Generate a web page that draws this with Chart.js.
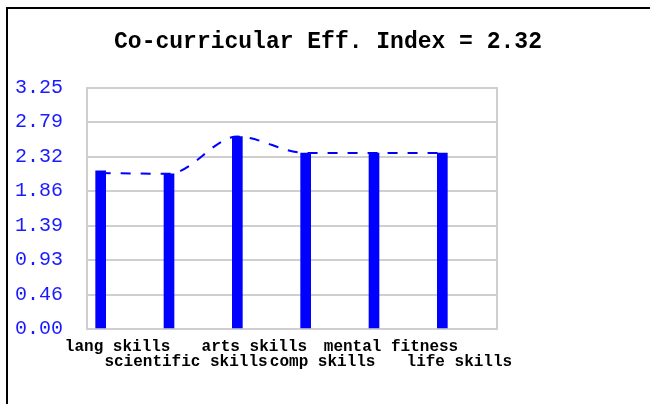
<!DOCTYPE html>
<html>
<head>
<meta charset="utf-8">
<script src="https://cdn.jsdelivr.net/npm/chart.js@4/dist/chart.umd.min.js"></script>
<style>
  html, body { margin: 0; padding: 0; background: #fff; overflow: hidden; }
  .frame {
    position: absolute; left: 6px; top: 7px;
    width: 700px; height: 450px;
    border: 2px solid #000;
  }
  #chart { position: absolute; left: 0; top: 0; }
</style>
</head>
<body>
<div class="frame"></div>
<canvas id="chart" width="650" height="404"></canvas>
<script>
// skill areas, one bar each
const categories = ['lang skills', 'scientific skills', 'arts skills', 'comp skills', 'mental fitness', 'life skills'];
const scores = [2.13, 2.09, 2.59, 2.37, 2.37, 2.37];
// dashed trend drawn over the bars
const trend = [2.10, 2.09, 2.59, 2.37, 2.37, 2.37];
const yTickLabels = ['0.00', '0.46', '0.93', '1.39', '1.86', '2.32', '2.79', '3.25'];
const yMax = 3.25;

const index = scores.reduce((a, b) => a + b, 0) / scores.length;

const gridColor = '#cfcfcf';
const mono = "'Liberation Mono', 'DejaVu Sans Mono', monospace";

new Chart(document.getElementById('chart').getContext('2d'), {
    type: 'bar',
    data: {
        datasets: [
            {
                type: 'line',
                data: trend.map((v, i) => ({ x: i, y: v })),
                borderColor: '#0000ff',
                borderWidth: 2,
                borderDash: [10, 10],
                cubicInterpolationMode: 'monotone',
                pointRadius: 0,
                fill: false,
                order: 1
            },
            {
                data: scores.map((v, i) => ({ x: i, y: v })),
                backgroundColor: '#0000ff',
                barThickness: 10,
                order: 2
            }
        ]
    },
    options: {
        responsive: false,
        animation: false,
        layout: {
            padding: { left: 6, right: 0, top: 0, bottom: 33 }
        },
        scales: {
            x: {
                type: 'linear',
                offset: false,
                min: -0.2,
                max: 5.8,
                afterBuildTicks: axis => {
                    axis.ticks = categories.map((c, i) => ({ value: i }));
                },
                grid: { display: false },
                border: { color: gridColor, width: 2 },
                ticks: {
                    autoSkip: false,
                    maxRotation: 0,
                    padding: 2,
                    labelOffset: 17,
                    color: '#000',
                    font: { family: mono, size: 16, weight: 'bold', lineHeight: '15px' },
                    // alternate rows so the long names don't collide
                    callback: value => {
                        const name = categories[value];
                        return value % 2 === 0 ? [name, ''] : ['', name];
                    }
                }
            },
            y: {
                min: 0,
                max: yMax,
                afterBuildTicks: axis => {
                    axis.ticks = yTickLabels.map((t, i) => ({ value: i * yMax / (yTickLabels.length - 1) }));
                },
                afterFit: axis => { axis.width = 81; },
                grid: { color: gridColor, lineWidth: 2, drawTicks: false },
                border: { color: gridColor, width: 2 },
                ticks: {
                    padding: 24,
                    crossAlign: 'near',
                    color: '#1a1aff',
                    font: { family: mono, size: 20 },
                    callback: (value, i) => yTickLabels[i]
                }
            },
            yRight: {
                position: 'right',
                min: 0,
                max: yMax,
                afterFit: axis => { axis.width = 153; },
                grid: { drawOnChartArea: false, drawTicks: false },
                border: { color: gridColor, width: 2 },
                ticks: { display: false }
            }
        },
        plugins: {
            legend: { display: false },
            tooltip: { enabled: false },
            title: {
                display: true,
                text: `Co-curricular Eff. Index = ${index.toFixed(2)}`,
                color: '#000',
                padding: { top: 28, bottom: 32 },
                font: { family: mono, size: 23, weight: 'bold' }
            }
        }
    }
});
</script>
</body>
</html>
